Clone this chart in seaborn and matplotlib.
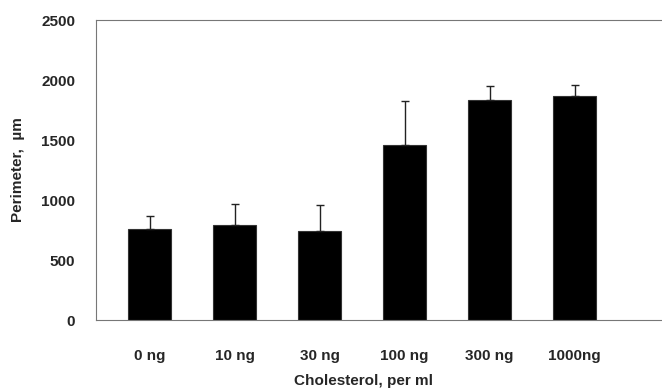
import numpy as np
import pandas as pd
import matplotlib
matplotlib.use("Agg")
import matplotlib.pyplot as plt
import seaborn as sns

doses = ["0 ng", "10 ng", "30 ng", "100 ng", "300 ng", "1000ng"]
perimeter = [756, 794, 744, 1456, 1831, 1867]
sd = [113, 170, 212, 369, 116, 94]

df = pd.DataFrame({"dose": doses, "perimeter": perimeter})

sns.set_style("white")
plt.rcParams["font.family"] = ["Liberation Sans", "DejaVu Sans"]
plt.rcParams["font.weight"] = "bold"

W, H = 662, 389
ax_w = W - 96 + 6
fig = plt.figure(figsize=(W / 100, H / 100), dpi=100)
ax = fig.add_axes([96 / W, 69 / H, ax_w / W, 300 / H])

sns.barplot(data=df, x="dose", y="perimeter", color="black", width=0.505,
            saturation=1, edgecolor="#333333", linewidth=0.8, ax=ax)
x = np.arange(len(doses))
ax.errorbar(x, perimeter, yerr=[np.zeros(len(sd)), sd], fmt="none",
            ecolor="#222222", elinewidth=1.0, capsize=2.8, capthick=1.0)

ax.set_ylim(0, 2500)
ax.set_xlim(-0.63, 6.1)
ax.set_yticks([0, 500, 1000, 1500, 2000, 2500])
ax.tick_params(axis="both", length=0, labelsize=11)
ax.tick_params(axis="y", pad=15)
ax.tick_params(axis="x", pad=21)
for lab in ax.get_xticklabels() + ax.get_yticklabels():
    lab.set_fontweight("bold")

ax.set_xlabel("Cholesterol, per ml", fontsize=11, fontweight="bold")
ax.set_ylabel("Perimeter,  µm", fontsize=11, fontweight="bold")
ax.xaxis.set_label_coords((364 - 96) / ax_w, (320 - 381) / 300)
ax.yaxis.set_label_coords((18 - 96) / ax_w, 0.5)
ax.xaxis.label.set_va("center")
ax.yaxis.label.set_va("center")

for side in ["left", "top", "bottom"]:
    ax.spines[side].set_color("#777777")
    ax.spines[side].set_linewidth(0.8)
ax.spines["right"].set_visible(False)

fig.savefig("out.png", dpi=100)
